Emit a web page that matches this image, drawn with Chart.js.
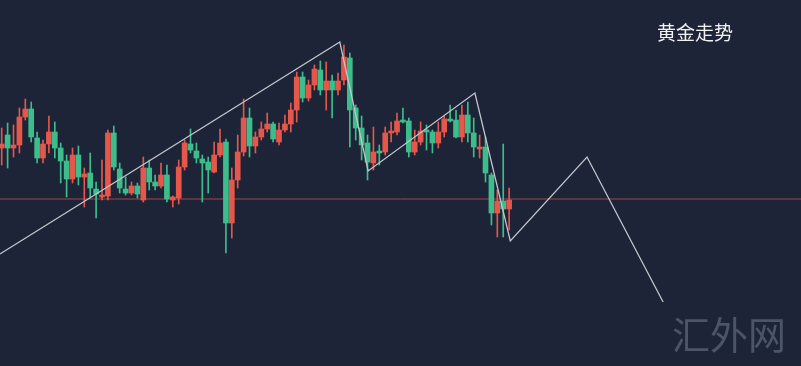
<!DOCTYPE html>
<html lang="zh">
<head>
  <meta charset="UTF-8" />
  <title>黄金走势</title>
  <script src="https://cdn.jsdelivr.net/npm/chart.js"></script>
  <style>
    html, body { margin: 0; padding: 0; background: #1d2437; overflow: hidden; }
    #wrap { position: relative; width: 801px; height: 366px; }
    #title { position: absolute; left: 657px; top: 22px; color: #f2f2f2; font: 19px "Noto Sans CJK SC", sans-serif; line-height: 1; white-space: nowrap; }
    #mark { position: absolute; left: 672px; top: 314px; color: #4c5565; font: 38px "Noto Sans CJK SC", sans-serif; line-height: 1; letter-spacing: 0px; white-space: nowrap; }
  </style>
</head>
<body>
<div id="wrap">
  <canvas id="chart" width="801" height="366"></canvas>
  <div id="title">黄金走势</div>
  <div id="mark">汇外网</div>
</div>

<script>
// candle values (price units), oldest first
const opens  = [2252,2265,2252,2255,2283,2291,2262,2242,2256,2268,2252,2239,2221,2245,2223,2227,2211,2203,2204,2267,2231,2211,2207,2214,2200,2232,2218,2214,2225,2200,2202,2233,2256,2249,2241,2238,2228,2245,2258,2177,2220,2248,2282,2254,2263,2271,2276,2258,2270,2276,2290,2323,2302,2315,2330,2310,2319,2310,2320,2342,2292,2272,2257,2237,2249,2248,2267,2268,2280,2279,2248,2258,2270,2268,2257,2268,2281,2280,2263,2285,2267,2251,2253,2225,2187,2199,2191];
const closes = [2256,2252,2255,2283,2291,2263,2242,2256,2268,2252,2239,2221,2245,2223,2226,2212,2206,2205,2267,2233,2212,2207,2214,2206,2232,2218,2214,2225,2201,2203,2233,2257,2250,2242,2237,2230,2245,2257,2177,2220,2248,2282,2254,2263,2271,2276,2261,2270,2276,2290,2323,2302,2315,2331,2310,2319,2310,2319,2343,2290,2272,2255,2238,2248,2247,2267,2269,2279,2278,2248,2258,2269,2268,2257,2268,2281,2279,2263,2285,2267,2253,2253,2227,2187,2199,2191,2200];
const highs  = [2272,2277,2275,2292,2301,2298,2268,2260,2284,2278,2257,2245,2252,2254,2232,2247,2218,2240,2270,2274,2237,2223,2218,2217,2243,2240,2225,2237,2235,2204,2240,2260,2271,2257,2245,2243,2258,2271,2261,2232,2265,2301,2292,2268,2278,2287,2278,2277,2285,2297,2328,2328,2320,2335,2339,2338,2325,2327,2355,2347,2295,2284,2265,2273,2255,2273,2278,2287,2292,2282,2270,2278,2275,2270,2278,2284,2295,2290,2295,2298,2282,2265,2263,2227,2210,2256,2212];
const lows   = [2235,2232,2243,2247,2280,2258,2237,2237,2247,2242,2217,2203,2217,2215,2193,2202,2182,2200,2200,2230,2207,2205,2205,2202,2198,2210,2210,2212,2198,2193,2196,2230,2247,2237,2198,2207,2227,2243,2147,2162,2212,2244,2243,2247,2260,2268,2258,2255,2268,2268,2278,2298,2299,2310,2305,2290,2282,2305,2315,2253,2260,2240,2220,2230,2235,2245,2258,2265,2277,2243,2245,2255,2250,2247,2252,2263,2278,2262,2258,2258,2243,2242,2218,2175,2163,2163,2170];

// hand-drawn trend polyline (x in candle index units)
const trendX = [-0.3, 57.3, 62.1, 80.2, 86.2, 99.2, 112.1];
const trendY = [2146, 2358, 2229, 2307, 2159, 2243, 2098];

// horizontal reference level
const refLevel = 2201;

const UP = '#e5574b', DOWN = '#3dbd8b';
const colors = opens.map((o, i) => closes[i] >= o ? UP : DOWN);

const bodies = opens.map((o, i) => ({ x: i, y: [o, closes[i]] }));
const wicks = lows.map((l, i) => ({ x: i, y: [l, highs[i]] }));
const trend = trendX.map((x, i) => ({ x: x, y: trendY[i] }));

const xMin = -0.29, xMax = 135.47;

new Chart(document.getElementById('chart'), {
  data: {
    datasets: [
      { type: 'line', data: trend, borderColor: '#c3c6cc', borderWidth: 1.3, pointRadius: 0, tension: 0, order: 0 },
      { type: 'bar', data: bodies, backgroundColor: colors, barThickness: 5, borderWidth: 0, grouped: false, order: 1 },
      { type: 'bar', data: wicks, backgroundColor: colors, barThickness: 1, borderWidth: 0, grouped: false, order: 2 },
      { type: 'line', data: [{ x: xMin, y: refLevel }, { x: xMax, y: refLevel }], borderColor: '#a3464f', borderWidth: 1, pointRadius: 0, order: 3 }
    ]
  },
  options: {
    responsive: false,
    animation: false,
    layout: { padding: 0 },
    plugins: { legend: { display: false }, tooltip: { enabled: false } },
    scales: {
      x: { type: 'linear', min: xMin, max: xMax, offset: false, display: false },
      y: { type: 'linear', min: 2034, max: 2400, display: false }
    }
  }
});
</script>
</body>
</html>
